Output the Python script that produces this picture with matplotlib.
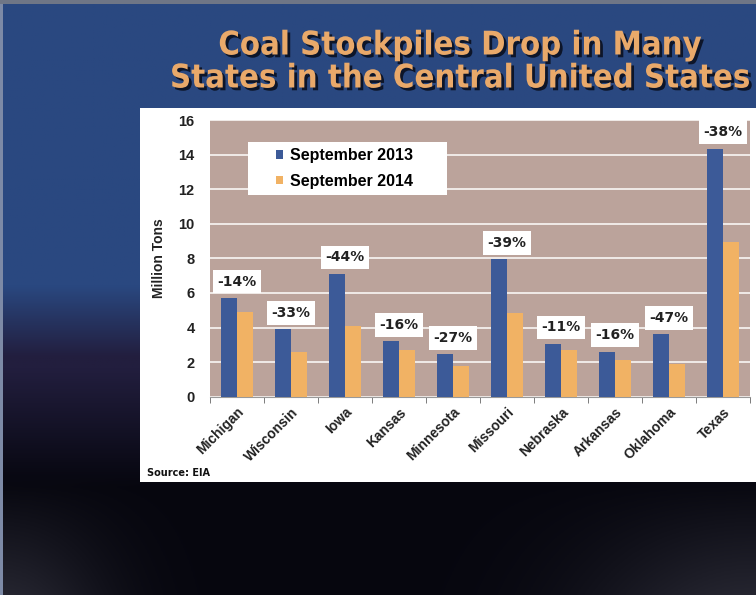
import numpy as np
import matplotlib
matplotlib.use("Agg")
import matplotlib.pyplot as plt
import matplotlib.patheffects as pe
from matplotlib.patches import Rectangle

states = ["Michigan", "Wisconsin", "Iowa", "Kansas", "Minnesota",
          "Missouri", "Nebraska", "Arkansas", "Oklahoma", "Texas"]
sep2013 = [5.7, 3.9, 7.1, 3.2, 2.45, 7.95, 3.05, 2.6, 3.6, 14.35]
sep2014 = [4.9, 2.6, 4.1, 2.7, 1.8, 4.85, 2.7, 2.1, 1.9, 8.95]
pct_labels = ["-14%", "-33%", "-44%", "-16%", "-27%",
              "-39%", "-11%", "-16%", "-47%", "-38%"]
yticks = [0, 2, 4, 6, 8, 10, 12, 14, 16]

W, H = 756, 595
fig = plt.figure(figsize=(W / 100, H / 100), dpi=100)

# background gradient
bg = fig.add_axes([0, 0, 1, 1])
bg.set_axis_off()
yy, xx = np.mgrid[0:1:300j, 0:1:380j]
top = np.array([42, 72, 128]) / 255
mid = np.array([34, 30, 62]) / 255
bot = np.array([6, 6, 14]) / 255
t1 = np.clip((yy - 0.48) / 0.12, 0, 1)[..., None]
t2 = np.clip((yy - 0.62) / 0.2, 0, 1)[..., None]
img = top * (1 - t1) + mid * t1
img = img * (1 - t2) + bot * t2
corner = (np.exp(-((xx - 0.0) ** 2) / 0.02) + np.exp(-((xx - 1.0) ** 2) / 0.05))[..., None] \
    * np.clip((yy - 0.8) / 0.2, 0, 1)[..., None]
img = img + corner * np.array([0.12, 0.12, 0.13])
img = np.clip(img, 0, 1)
bg.imshow(img, extent=[0, 1, 0, 1], aspect="auto", origin="upper")
bg.set_xlim(0, 1)
bg.set_ylim(0, 1)
fig.patches.append(Rectangle((0, 0), 3 / W, 1, transform=fig.transFigure,
                             facecolor="#7d8aa6", edgecolor="none", zorder=0.5))
fig.patches.append(Rectangle((0, 1 - 4 / H), 1, 4 / H, transform=fig.transFigure,
                             facecolor="#6f7686", edgecolor="none", zorder=0.5))

# title
title_kw = dict(ha="center", va="center", color="#e9a96a", fontsize=23.5,
                fontweight="bold", family="DejaVu Sans", fontstretch="condensed",
                path_effects=[pe.withSimplePatchShadow(offset=(2, -2), shadow_rgbFace="#0a1020", alpha=0.9)])
fig.text(460 / W, 1 - 45 / H, "Coal Stockpiles Drop in Many", **title_kw)
fig.text(460 / W, 1 - 78 / H, "States in the Central United States", **title_kw)

# white panel
fig.patches.append(Rectangle((140 / W, 1 - 482 / H), 1, (482 - 108) / H,
                             transform=fig.transFigure, facecolor="white",
                             edgecolor="none", zorder=1))

ax = fig.add_axes([210 / W, 1 - 396.7 / H, (750 - 210) / W, (396.7 - 120) / H])
ax.set_zorder(2)
ax.set_facecolor("#bba39b")
x = np.arange(len(states))
bw = 0.3
ax.bar(x - bw / 2, sep2013, bw, color="#3c5a98", label="September 2013", zorder=3)
ax.bar(x + bw / 2, sep2014, bw, color="#f1b264", label="September 2014", zorder=3)
ax.set_xlim(-0.5, len(states) - 0.5)
ax.set_ylim(0, 16)
ax.set_yticks(yticks)
ax.set_yticklabels([str(v) for v in yticks], fontsize=10.5, fontweight="bold",
                   family="Liberation Sans", color="#222222")
ax.yaxis.grid(True, color="#f4f0ee", linewidth=1.3, zorder=0)
ax.set_axisbelow(True)
ax.set_xticks(np.arange(len(states) + 1) - 0.5, minor=True)
ax.set_xticks(x)
ax.set_xticklabels(states, rotation=45, ha="right", rotation_mode="anchor",
                   fontsize=10, fontweight="bold", family="Liberation Sans",
                   color="#222222")
ax.tick_params(axis="x", which="major", length=0, pad=6)
ax.tick_params(axis="x", which="minor", length=4, color="#666666", direction="out")
ax.tick_params(axis="y", length=0, pad=11)
for s in ["top", "right", "left"]:
    ax.spines[s].set_visible(False)
ax.spines["bottom"].set_color("#999999")
ax.set_ylabel("Million Tons", fontsize=10, fontweight="bold",
              family="Liberation Sans", color="#222222", labelpad=9)

for xi, v, lab in zip(x, sep2013, pct_labels):
    ax.text(xi, v + 0.55, lab, ha="center", va="bottom", fontsize=10,
            fontweight="bold", family="DejaVu Sans", color="#222222", zorder=5,
            bbox=dict(boxstyle="square,pad=0.35", facecolor="white", edgecolor="none"))

# legend box
ax.add_patch(Rectangle(((248 - 210) / 540, (396.7 - 195) / 276.7),
                       (447 - 248) / 540, (195 - 142) / 276.7,
                       transform=ax.transAxes, facecolor="white",
                       edgecolor="none", zorder=4))
leg = ax.legend(loc="center left", bbox_to_anchor=((276 - 210) / 540, (396.7 - 168.5) / 276.7),
                frameon=False,
                prop=dict(family="Liberation Sans", weight="bold", size=11.5),
                handlelength=0.45, handleheight=0.45, handletextpad=0.45,
                borderpad=0, labelspacing=0.65, borderaxespad=0)
leg.set_zorder(6)

fig.text(147 / W, 1 - 473 / H, "Source: EIA", fontsize=7, fontweight="bold",
         family="DejaVu Sans", color="#111111", va="center", zorder=5)

fig.savefig("out.png", dpi=100)
